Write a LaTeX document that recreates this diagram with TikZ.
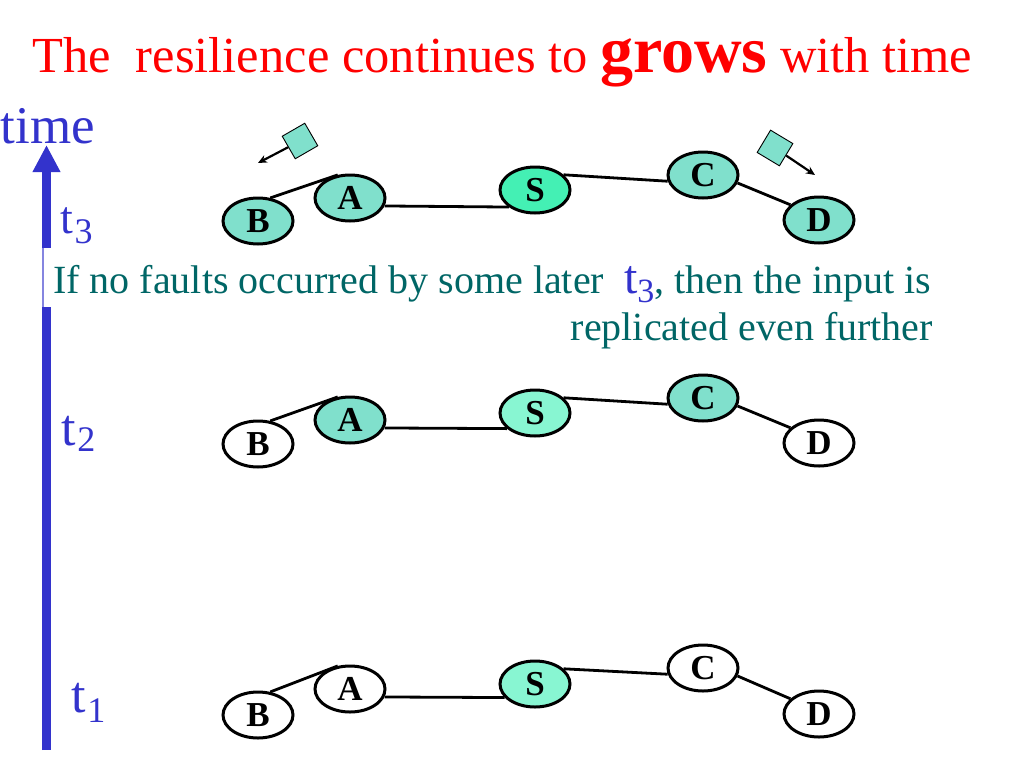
\documentclass[tikz,border=0pt]{standalone}
\usepackage{fontspec}
\setmainfont{Liberation Serif}
\usetikzlibrary{shapes.geometric,arrows.meta}
\definecolor{tred}{HTML}{FF0000}
\definecolor{tblue}{HTML}{3333CC}
\definecolor{tteal}{HTML}{006666}
\definecolor{fillA}{HTML}{80E0CC}
\definecolor{fillS}{HTML}{44F0B4}
\definecolor{fillM}{HTML}{88F6D2}
\tikzset{
  nd/.style={ellipse, draw=black, line width=3pt, minimum width=70pt, minimum height=46pt, inner sep=0pt, fill=white, font=\fontsize{35}{35}\selectfont\bfseries},
  lnk/.style={draw=black, line width=2.8pt},
  pkt/.style={draw=black, line width=0.9pt, fill=fillA, minimum width=26pt, minimum height=26pt, inner sep=0pt},
  pktarrow/.style={line width=2.2pt, -{Stealth[length=9pt,width=8pt]}},
  tlabel/.style={anchor=base west, inner sep=0pt, text=tblue},
}
\newcommand{\tsub}[4]{{\fontsize{#1}{#1}\selectfont t}\,\raisebox{-#3pt}{\fontsize{#4}{#4}\selectfont #2}}
\begin{document}
\begin{tikzpicture}[x=1pt,y=-1pt]
\useasboundingbox (0,0) rectangle (1024,768);
% title
\node[anchor=base west, inner sep=0pt, text=tred, font=\fontsize{50.5}{56}\selectfont] (title) at (32,72)
  {The\ \ resilience continues to {\fontsize{66}{70}\selectfont\bfseries grows} with time};
% time axis
\node[anchor=base west, inner sep=0pt, text=tblue, font=\fontsize{53}{53}\selectfont] (timelbl) at (0.5,143) {time};
\coordinate (axbot) at (46.5,750);
\coordinate (axtop) at (46.5,145);
\draw[tblue, line width=9pt, -{Triangle[length=27pt,width=26pt]}] (axbot) -- (axtop);
\fill[white] (36,248) rectangle (58,307);
\coordinate (gaptop) at (43,248);
\coordinate (gapbot) at (43,307);
\draw[color=tblue!60, line width=1.5pt] (gaptop) -- (gapbot);
% t labels
\node[tlabel] (t3) at (60,233) {\tsub{46}{3}{10}{36}};
\node[tlabel] (t2) at (61,445) {\tsub{52}{2}{6}{36}};
\node[tlabel] (t1) at (71,712) {\tsub{52}{1}{10}{36}};
% explanation text
\node[anchor=base west, inner sep=0pt, text=tteal, font=\fontsize{40}{44}\selectfont] (txt1) at (53,293)
  {If no faults occurred by some later\ \ {\color{tblue}{\fontsize{48}{48}\selectfont t}\raisebox{-9pt}{\fontsize{34}{34}\selectfont 3}}, then the input is};
\node[anchor=base east, inner sep=0pt, text=tteal, font=\fontsize{40}{44}\selectfont] (txt2) at (933,340)
  {replicated even further};
% ---- row t3 (top)
\node[nd, fill=fillA] (B3) at (258,221) {B};
\node[nd, fill=fillA] (A3) at (350,198) {A};
\node[nd, fill=fillS] (S3) at (535,190) {S};
\node[nd, fill=fillA] (C3) at (703,175) {C};
\node[nd, fill=fillA] (D3) at (819,220) {D};
\draw[lnk] (B3.62) -- (A3.118);
\draw[lnk] (A3.-13.6) -- (S3.213);
\draw[lnk] (S3.28) -- (C3.190);
\draw[lnk] (C3.-13) -- (D3.152);
\node[pkt, rotate=30] (pk1) at (300,141) {};
\coordinate (tip1) at (258,163);
\draw[pktarrow] (pk1) -- (tip1);
\node[pkt, rotate=-31] (pk2) at (775,148) {};
\coordinate (tip2) at (815,175);
\draw[pktarrow] (pk2) -- (tip2);
% ---- row t2 (middle)
\node[nd] (B2) at (258,444) {B};
\node[nd, fill=fillA] (A2) at (350,420) {A};
\node[nd, fill=fillM] (S2) at (535,413) {S};
\node[nd, fill=fillA] (C2) at (703,398) {C};
\node[nd] (D2) at (819,443) {D};
\draw[lnk] (B2.62) -- (A2.118);
\draw[lnk] (A2.-13.6) -- (S2.209.5);
\draw[lnk] (S2.28) -- (C2.190);
\draw[lnk] (C2.-13) -- (D2.152);
% ---- row t1 (bottom)
\node[nd] (B1) at (258,715) {B};
\node[nd] (A1) at (350,689) {A};
\node[nd, fill=fillM] (S1) at (535,684) {S};
\node[nd] (C1) at (703,668) {C};
\node[nd] (D1) at (819,714) {D};
\draw[lnk] (B1.62) -- (A1.118);
\draw[lnk] (A1.-13.6) -- (S1.204);
\draw[lnk] (S1.28) -- (C1.190);
\draw[lnk] (C1.-13) -- (D1.152);
\end{tikzpicture}
\end{document}
